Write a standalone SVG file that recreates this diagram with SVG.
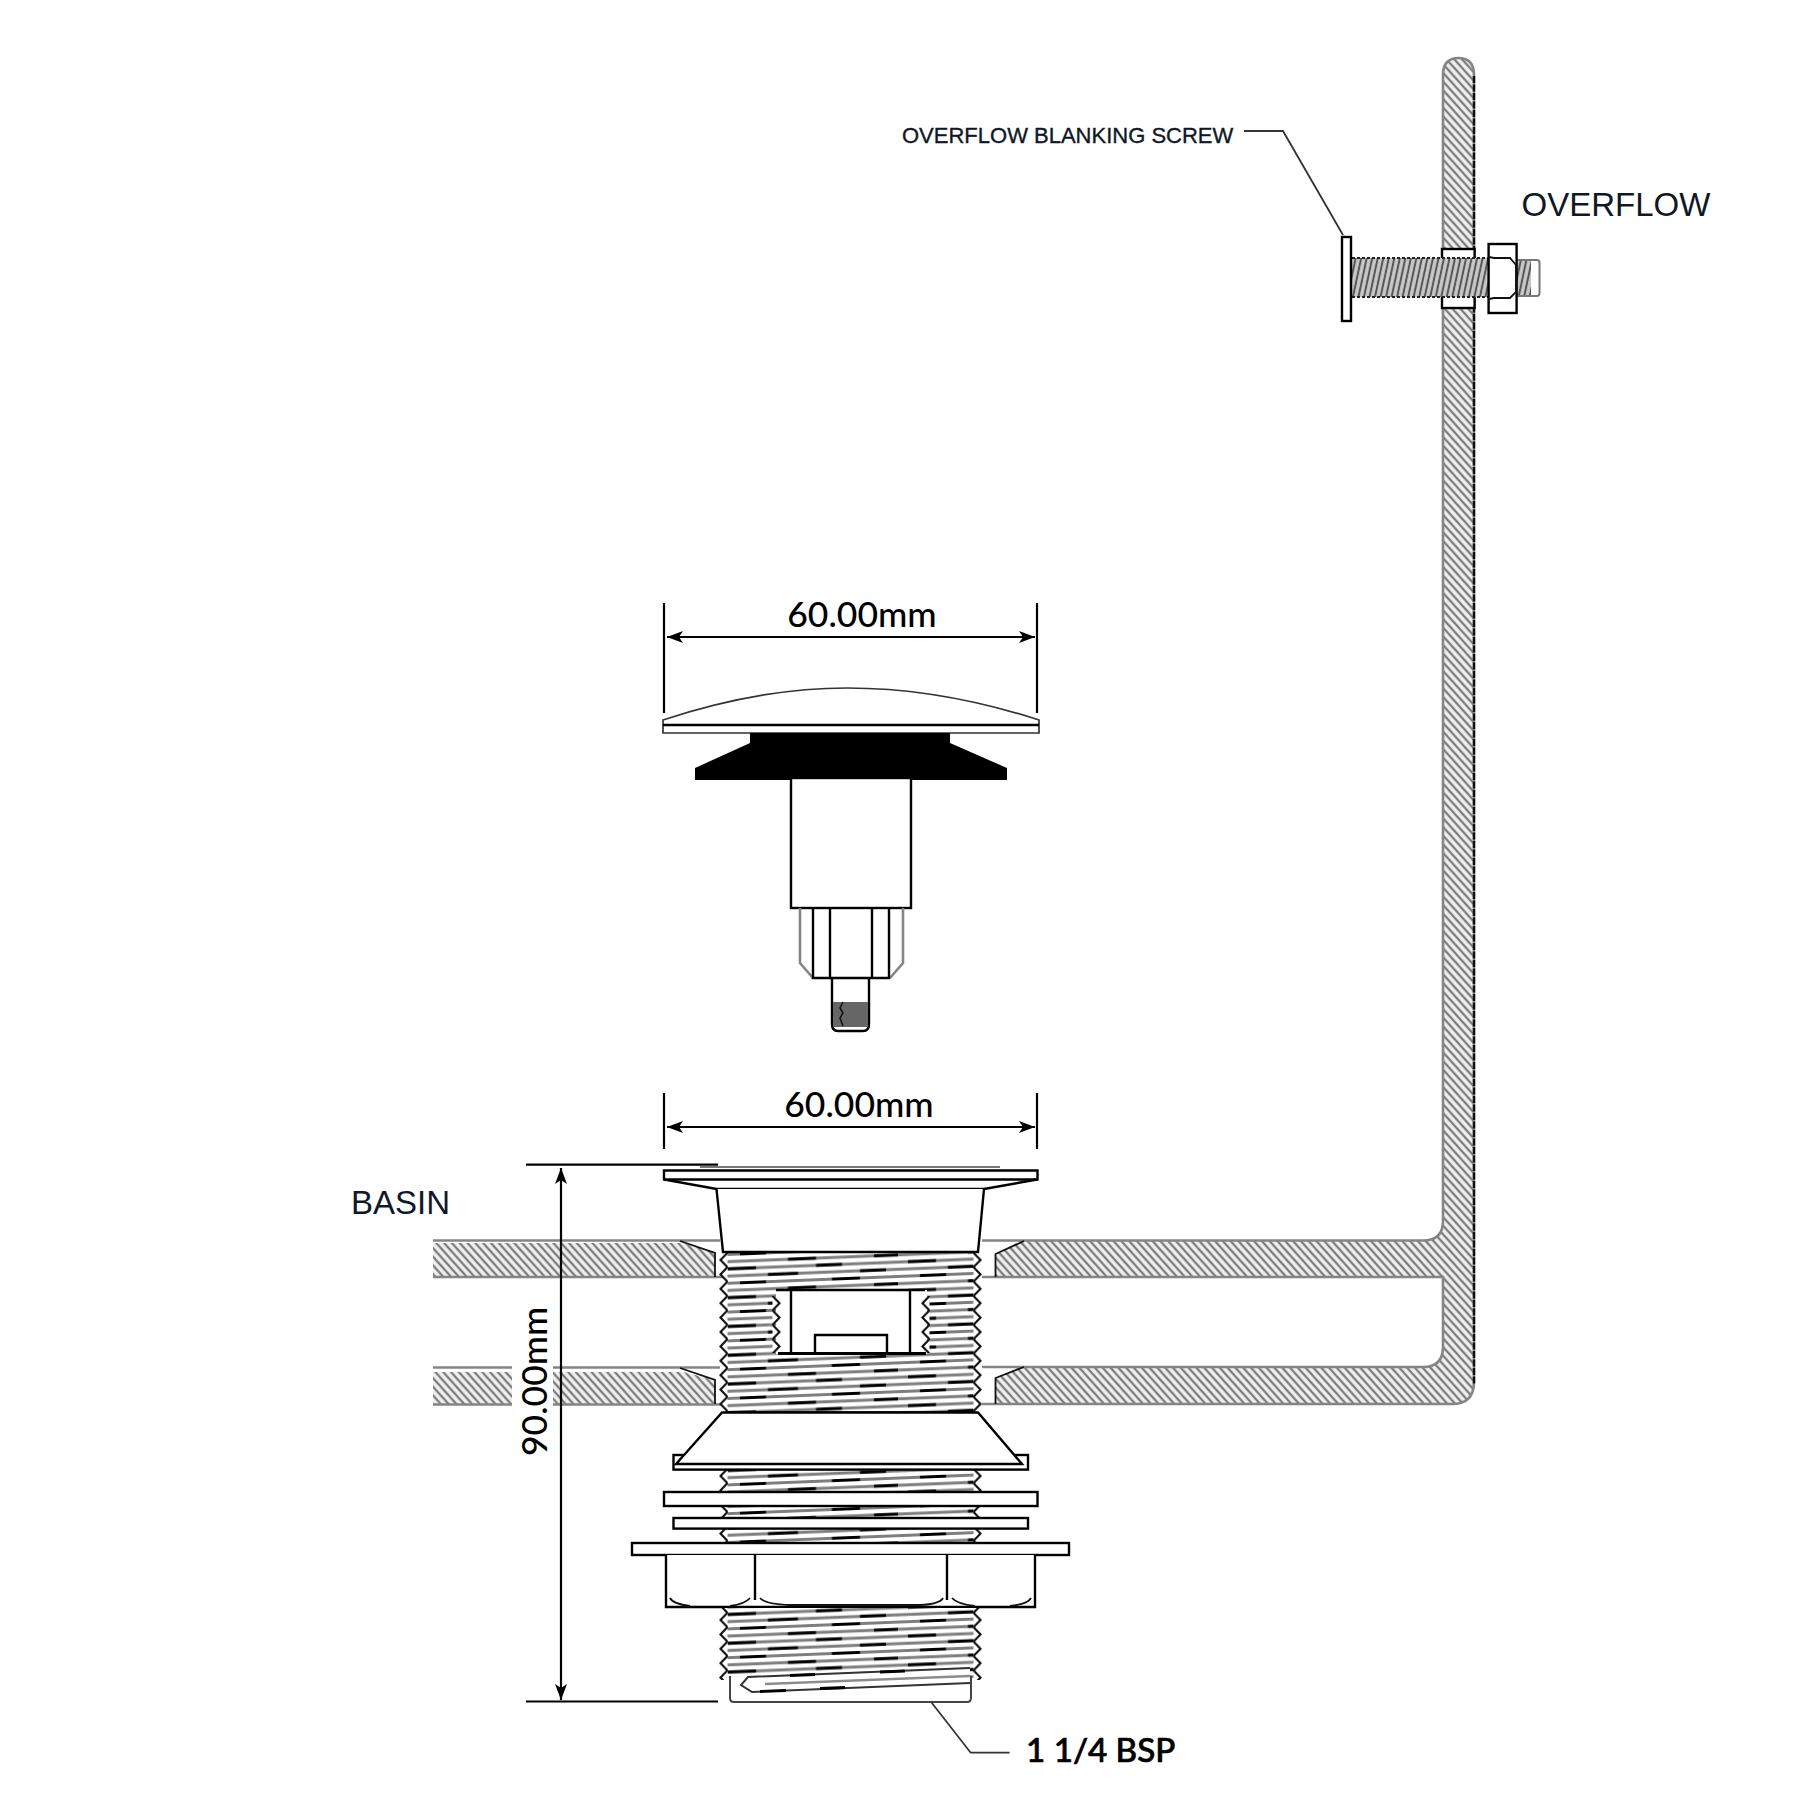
<svg xmlns="http://www.w3.org/2000/svg" width="1800" height="1800" viewBox="0 0 1800 1800">
<style>
.ln{fill:#fff;stroke:#000;stroke-width:2.4}
.open{fill:none;stroke:#000;stroke-width:2.4}
.gr{fill:none;stroke:#858585;stroke-width:2.6}
.thin{fill:none;stroke:#111;stroke-width:1.8}
.dim{fill:none;stroke:#000;stroke-width:2.2}
.lead{fill:none;stroke:#333;stroke-width:1.8}
.lato{font-family:Lato,"Liberation Sans",sans-serif;fill:#000}
.lib{font-family:"Liberation Sans",Arial,sans-serif;fill:#101828}
</style>
<defs>
<pattern id="hatch" patternUnits="userSpaceOnUse" width="5.8" height="5.8" patternTransform="rotate(48)">
<rect width="5.8" height="5.8" fill="#f0f0f0"/><line x1="0" y1="2.9" x2="5.8" y2="2.9" stroke="#7c7c7c" stroke-width="2.3"/>
</pattern>
<pattern id="bolt" patternUnits="userSpaceOnUse" width="5.4" height="40" patternTransform="rotate(12)">
<rect width="5.4" height="40" fill="#c8c8c8"/><line x1="2.7" y1="0" x2="2.7" y2="40" stroke="#555" stroke-width="2"/>
</pattern>
<pattern id="thread" patternUnits="userSpaceOnUse" width="180" height="28.8" patternTransform="skewY(-2.29)">
<rect width="180" height="28.8" fill="#fff"/>
<path d="M0,2 H180 M0,9.200 H180 M0,16.400 H180 M0,23.600 H180" stroke="#7e7e7e" stroke-width="2.800" fill="none"/>
<path d="M8,2 H36 M96,2 H122 M48,9.200 H78 M140,9.200 H166 M20,16.400 H46 M112,16.400 H140 M68,23.600 H96 M154,23.600 H178" stroke="#000" stroke-width="2.800" fill="none"/>
</pattern>
<pattern id="teeth" patternUnits="userSpaceOnUse" width="9" height="14.4">
<path d="M8.500,0 L1.500,7.200 L8.500,14.400" fill="#fff" stroke="#111" stroke-width="2.2"/>
</pattern>
<marker id="arr" markerUnits="userSpaceOnUse" markerWidth="18" markerHeight="14" refX="16" refY="6" orient="auto-start-reverse">
<path d="M0,0 L16,6 L0,12 L4,6 Z" fill="#000"/>
</marker>
</defs>
<rect width="1800" height="1800" fill="#fff"/>

<g id="basin">
<path d="M1020,1241 H1423 Q1443,1241 1443,1221 V75 Q1443,58 1458.500,58 Q1474,58 1474,75 V1382 Q1474,1404 1452,1404 H995.500 V1378 L1020,1367 H1423 Q1443,1367 1443,1347 V1277 H995.500 V1254 Z" fill="url(#hatch)"/>
<path d="M433,1243 H683 L715,1253 V1277 H433 Z" fill="url(#hatch)"/>
<path d="M433,1372 H512 V1404 H433 Z" fill="url(#hatch)"/>
<path d="M553,1372 H683 L715,1380 V1404 H553 Z" fill="url(#hatch)"/>
<path class="gr" d="M433,1240.500 H720 M433,1277 H727 M433,1367.500 H512 M553,1367.500 H720 M433,1404.500 H512 M553,1404.500 H727"/>
<path class="thin" d="M680,1241 L715,1253 V1277 M680,1368 L715,1380 V1404"/>
<path class="gr" d="M982,1240.500 H1423 Q1443,1240.500 1443,1221 V75 Q1443,58 1458.500,58 Q1474,58 1474,75 V1382 Q1474,1404 1452,1404 H982 M982,1277 H1443 V1347 Q1443,1367 1423,1367 H982"/>
<path d="M1474,76 V1384" fill="none" stroke="#111" stroke-width="2.4" stroke-dasharray="7 1.500"/>
<path class="thin" d="M1024,1241 L995.500,1254 V1277 M1024,1367 L995.500,1378 V1404"/>
</g>

<g id="plug">
<path d="M663,720 Q760,688 847,688 Q940,688 1039,720 V733 H663 Z" fill="#fff" stroke="#333" stroke-width="1.700"/>
<path class="open" d="M663,725 H1039"/>
<path d="M750,733 V743 L695,768 V780 H1007 V768 L950,743 V733 Z" fill="#000"/>
<rect class="ln" x="791" y="778" width="120" height="130"/>
<path class="gr" d="M800,908 V963 L813,978 M903,908 V963 L890,978"/>
<path class="open" d="M813,908 V978 H889 V908 M830,908 V978 M872,908 V978"/>
<path class="open" d="M832,978 V1024 Q832,1031 838,1031 H863 Q869,1031 869,1024 V978" stroke="#444"/>
<rect x="833" y="1002" width="35" height="25" fill="#666"/>
<path d="M843,1002 l-3,6 3,5 -3,5 3,8" fill="none" stroke="#111" stroke-width="1.500"/>
</g>

<g id="waste">
<rect x="727" y="1253" width="247" height="160" fill="url(#thread)"/>
<g transform="translate(719,0)"><rect width="9" height="160" y="1253" fill="url(#teeth)"/></g>
<g transform="translate(982,0) scale(-1,1)"><rect width="9" height="160" y="1253" fill="url(#teeth)"/></g>
<path class="ln" d="M664,1170.500 H1037.500 V1179.500 L984,1189 H716.500 L664,1179.500 Z" stroke-width="2"/>
<path class="open" d="M664,1179.500 H1037.500"/>
<path d="M700,1167 H1000" fill="none" stroke="#777" stroke-width="1.800"/>
<path class="ln" d="M716.500,1189 L723,1252 H978 L984,1189"/>
<rect x="776" y="1290" width="151" height="64" fill="#fff"/>
<path class="open" d="M776,1290 H925"/>
<path d="M778,1353.500 H926" fill="none" stroke="#000" stroke-width="3"/>
<g transform="translate(781,0) scale(-1,1)"><rect width="9" height="57" y="1296" fill="url(#teeth)"/></g>
<g transform="translate(921,0)"><rect width="9" height="57" y="1296" fill="url(#teeth)"/></g>
<path class="open" d="M791,1290 V1353 M910,1290 V1353"/>
<path class="ln" d="M815,1352 V1335 H887 V1352"/>
<path class="open" d="M727,1412.500 H974"/>

<rect x="727" y="1470" width="247" height="73" fill="url(#thread)"/>
<g transform="translate(719,0)"><rect width="9" height="73" y="1470" fill="url(#teeth)"/></g>
<g transform="translate(982,0) scale(-1,1)"><rect width="9" height="73" y="1470" fill="url(#teeth)"/></g>
<rect class="ln" x="673.500" y="1455" width="354.500" height="14.600"/>
<path class="ln" d="M722,1412.500 H978 L1022,1464 H676 Z" stroke-width="2"/>
<rect class="ln" x="664" y="1492" width="373.500" height="14"/>
<rect class="ln" x="673.500" y="1518" width="354.500" height="10.600"/>
<rect class="ln" x="632" y="1543" width="437" height="12"/>

<path class="ln" d="M666,1555 V1607 H1035 V1555"/>
<path class="open" d="M755,1555 V1600 M947,1555 V1600"/>
<path class="thin" d="M670,1598 Q673,1604 690,1606 M750,1598 Q745,1604 730,1606 M760,1598 Q765,1604 790,1605 H920 Q940,1604 943,1598 M952,1598 Q957,1604 975,1606 M1031,1598 Q1028,1604 1010,1606"/>

<rect x="727" y="1608" width="247" height="70" fill="url(#thread)"/>
<g transform="translate(719,0)"><rect width="9" height="72" y="1608" fill="url(#teeth)"/></g>
<g transform="translate(982,0) scale(-1,1)"><rect width="9" height="72" y="1608" fill="url(#teeth)"/></g>
<path d="M731,1676 H748 L970,1668 V1702 H731 Z" fill="#fff"/>
<path d="M730,1676 V1698 Q730,1702 734,1702 H967 Q971,1702 971,1698 V1676" fill="none" stroke="#444" stroke-width="2"/>
<path d="M970,1668 L748,1677 L741,1685 L752,1692 L970,1683" fill="none" stroke="#333" stroke-width="2"/>
<path d="M765,1684 L970,1676" fill="none" stroke="#8c8c8c" stroke-width="2.400"/>
<path d="M790,1675.500 L815,1674.500 M880,1672 L905,1671 M760,1691.500 L786,1690.500 M820,1688.500 L845,1687.500" fill="none" stroke="#000" stroke-width="2.800"/>
</g>

<g id="overflow-screw">
<rect class="ln" x="1442" y="249" width="32.600" height="59" stroke-width="2"/>
<rect x="1352" y="258" width="137" height="39" fill="url(#bolt)"/>
<path d="M1352,258 H1489 M1352,297 H1489" fill="none" stroke="#222" stroke-width="2.200" stroke-dasharray="3 2"/>
<rect class="ln" x="1342" y="237" width="9" height="84"/>
<rect x="1517" y="260" width="14" height="36" fill="url(#bolt)"/>
<path d="M1517,260 H1537 Q1539.500,260 1539.500,263 V293 Q1539.500,296 1537,296 H1517" fill="none" stroke="#777" stroke-width="2"/>
<rect class="ln" x="1488.600" y="244" width="28" height="69"/>
<path class="thin" d="M1489,257 L1494,258 H1510 L1516,265 V292 L1510,298 H1494 L1489,299" stroke="#555"/>
</g>

<g id="connectors">
<path class="dim" d="M664,603 V713 M1037,603 V713"/>
<path class="dim" d="M667,637 H1035" marker-start="url(#arr)" marker-end="url(#arr)"/>
<path class="dim" d="M664,1093 V1149 M1037,1093 V1149"/>
<path class="dim" d="M667,1127 H1035" marker-start="url(#arr)" marker-end="url(#arr)"/>
<path class="dim" d="M526,1164.700 H718 M526,1701.500 H718"/>
<path class="dim" d="M561,1168 V1700" marker-start="url(#arr)" marker-end="url(#arr)"/>
<path class="lead" d="M1244,131 H1283 L1343,235"/>
<path class="lead" d="M931.700,1702.700 L970.700,1752.700 H1009.600"/>
</g>

<g id="labels">
<text class="lato" x="862" y="626.500" font-size="35.500" font-weight="500" text-anchor="middle">60.00mm</text>
<text class="lato" x="859" y="1117" font-size="35.500" font-weight="500" text-anchor="middle">60.00mm</text>
<text class="lato" transform="translate(547,1456) rotate(-90)" font-size="35.500" font-weight="500">90.00mm</text>
<text class="lato" x="1026" y="1761.500" font-size="33.200" font-weight="500" stroke="#000" stroke-width="0.700">1 1/4 BSP</text>
<text class="lib" x="902" y="142.500" font-size="22" stroke="#101828" stroke-width="0.350">OVERFLOW BLANKING SCREW</text>
<text class="lib" x="1521.500" y="215.500" font-size="33">OVERFLOW</text>
<text class="lib" x="351" y="1214" font-size="33">BASIN</text>
</g>
</svg>
